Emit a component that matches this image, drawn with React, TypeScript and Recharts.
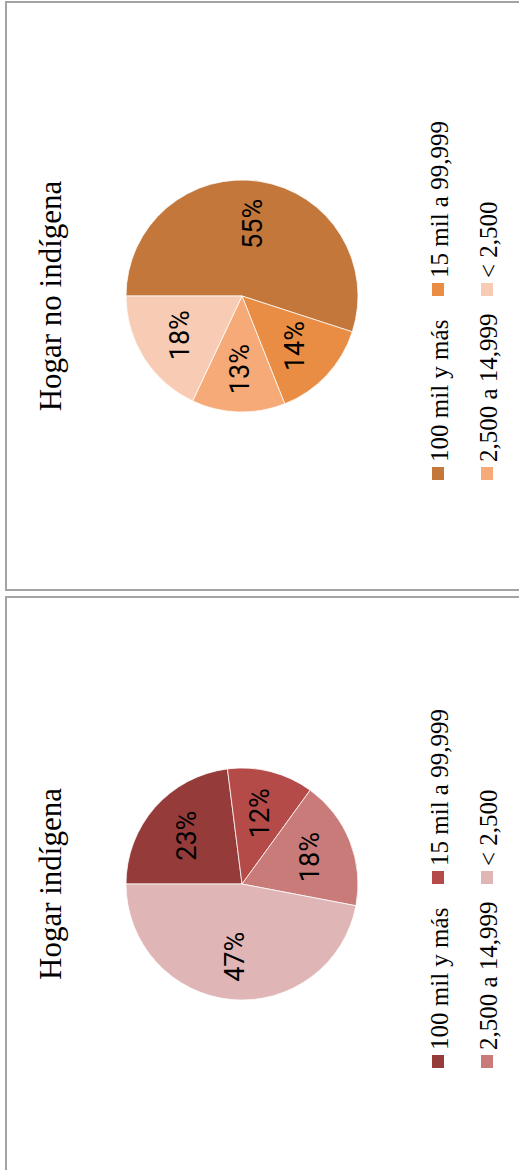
import React from 'react';
import { PieChart, Pie, Cell, Legend } from 'recharts';

const categories = ['100 mil y más', '15 mil a 99,999', '2,500 a 14,999', '< 2,500'];
const noIndigenaValues = [55, 14, 13, 18];
const indigenaValues = [23, 12, 18, 47];
const noIndigenaColors = ['#C3773A', '#E88D43', '#F5AA78', '#F8CBB4'];
const indigenaColors = ['#953C3B', '#B44B48', '#C97B7A', '#DFB5B5'];

const SERIF = '"Liberation Serif", "DejaVu Serif", serif';
const PANEL_H = 530;

const RADIAN = Math.PI / 180;

const renderLabel = ({ cx, cy, midAngle, outerRadius, value }: any) => {
  const r = outerRadius * 0.63;
  const x = cx + r * Math.cos(-midAngle * RADIAN);
  const y = cy + r * Math.sin(-midAngle * RADIAN);
  return (
    <text
      x={x}
      y={y}
      textAnchor="middle"
      dominantBaseline="central"
      fill="#000"
      style={{ fontFamily: 'Roboto, sans-serif', fontSize: 27 }}
    >
      {value}%
    </text>
  );
};

const makeLegend = (colors: string[]) => ({ payload }: any) => (
  <div
    style={{
      display: 'grid',
      gridTemplateColumns: '184px 184px',
      gridAutoRows: '49px',
      justifyContent: 'center',
      fontFamily: SERIF,
      fontSize: 25,
      color: '#000',
    }}
  >
    {(payload || []).map((entry: any, i: number) => (
      <div key={i} style={{ display: 'flex', alignItems: 'center', whiteSpace: 'nowrap' }}>
        <span
          style={{
            display: 'inline-block',
            width: 13,
            height: 12,
            marginRight: 5,
            marginTop: -3,
            background: colors[i] || entry.color,
          }}
        />
        <span>{entry.value}</span>
      </div>
    ))}
  </div>
);

interface PanelProps {
  title: string;
  values: number[];
  colors: string[];
  width: number;
  left: number;
  bottom: number;
}

const Panel = ({ title, values, colors, width, left, bottom }: PanelProps) => {
  const data = categories.map((name, i) => ({ name, value: values[i], fill: colors[i] }));
  return (
    <div
      style={{
        position: 'absolute',
        left,
        top: bottom,
        width,
        height: PANEL_H,
        transformOrigin: '0 0',
        transform: 'rotate(-90deg)',
        background: '#fff',
      }}
    >
      <div
        style={{
          position: 'absolute',
          left: 0,
          top: 0,
          width,
          height: PANEL_H,
          boxSizing: 'border-box',
          border: '2px solid #a3a3a3',
        }}
      />
      <div
        style={{
          position: 'absolute',
          left: 0,
          top: 30,
          width,
          textAlign: 'center',
          fontFamily: SERIF,
          fontSize: 31,
          lineHeight: '31px',
          color: '#000',
        }}
      >
        {title}
      </div>
      <div style={{ position: 'absolute', left: 0, top: 0 }}>
        <PieChart width={width} height={PANEL_H} margin={{ top: 0, right: 0, bottom: 0, left: 0 }}>
          <Pie
            data={data}
            dataKey="value"
            nameKey="name"
            cx={width / 2}
            cy={237}
            outerRadius={116}
            startAngle={90}
            endAngle={-270}
            stroke="#fff"
            strokeWidth={0.75}
            label={renderLabel}
            labelLine={false}
            isAnimationActive={false}
          >
            {data.map((d, i) => (
              <Cell key={i} fill={d.fill} />
            ))}
          </Pie>
          <Legend
            content={makeLegend(colors)}
            wrapperStyle={{ position: 'absolute', left: 0, top: 410, width }}
          />
        </PieChart>
      </div>
    </div>
  );
};

export default function App() {
  return (
    <div
      style={{
        position: 'absolute',
        left: 0,
        top: 0,
        width: 519,
        height: 1170,
        overflow: 'hidden',
        background: '#fff',
      }}
    >
      <Panel
        title="Hogar no indígena"
        values={noIndigenaValues}
        colors={noIndigenaColors}
        width={590}
        left={5}
        bottom={591}
      />
      <Panel
        title="Hogar indígena"
        values={indigenaValues}
        colors={indigenaColors}
        width={576}
        left={5}
        bottom={1172}
      />
    </div>
  );
}
